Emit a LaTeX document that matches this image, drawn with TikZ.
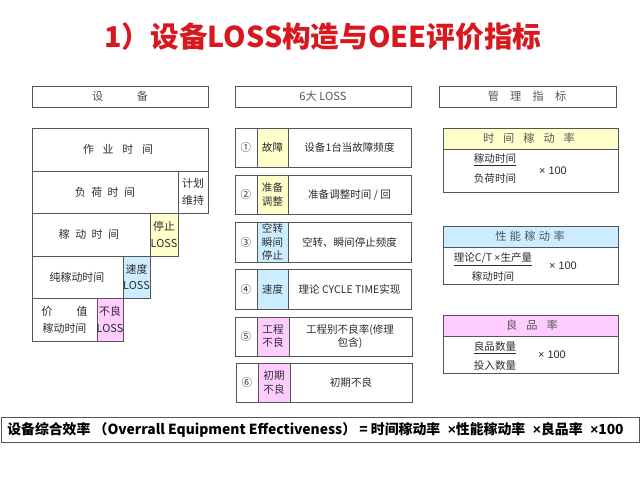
\documentclass[tikz,border=0pt]{standalone}
\usepackage{fontspec}
\setmainfont{Noto Sans CJK SC}
\newfontfamily\arialfont{Liberation Sans}
\usetikzlibrary{shadows}

\definecolor{lossyellow}{RGB}{255,255,204}
\definecolor{lossblue}{RGB}{204,236,255}
\definecolor{losspink}{RGB}{255,204,255}
\definecolor{titlered}{RGB}{216,24,30}
\definecolor{edge}{RGB}{85,85,85}
\definecolor{ink}{RGB}{45,45,45}

\newcommand{\mul}{{\arialfont ×}}

\begin{document}
\begin{tikzpicture}[x = 0.75pt, y = -0.75pt,
	frame/.style = {draw = edge, line width = 0.6pt},
	shade/.style = {frame, fill = white, drop shadow = {shadow xshift = 0.9pt, shadow yshift = -0.9pt, fill = gray!55, opacity = 1}},
	txt/.style = {text = ink, align = center, inner sep = 0pt, font = \fontsize{7.9}{9.8}\selectfont},
	stack/.style = {txt, font = \fontsize{8.2}{12.6}\selectfont},
	head/.style = {txt, text = ink!80, font = \fontsize{8.4}{10}\selectfont}]

					\useasboundingbox (0,0) rectangle (640,480);
					\fill [white] (0,0) rectangle (640,480);

					% title
					\node [text = titlered, inner sep = 0pt, font = \fontsize{21.5}{24}\bfseries\selectfont] (title) at (323,37) {1）设备LOSS构造与OEE评价指标};

					% column headers
					\draw [shade] (32,86) rectangle (208,107);
					\draw [shade] (235,86) rectangle (411,107);
					\draw [shade] (439,86) rectangle (616,107);

					\node [head] (equip) at (120,96.5) {设\hspace{3em}备};
					\node [head] (sixloss) at (323,96.5) {6大 LOSS};
					\node [head] (index) at (527,96.5) {管\hspace{1em}理\hspace{1em}指\hspace{1em}标};

					% time stack
					\draw [frame, fill = white] (32,128) rectangle (208,171);
					\draw [frame] (32,171) rectangle (178,213);
					\draw [frame] (178,171) rectangle (208,213);
					\draw [frame] (32,213) rectangle (150,256);
					\draw [frame, fill = lossyellow] (150,213) rectangle (178,256);
					\draw [frame] (32,256) rectangle (123,298);
					\draw [frame, fill = lossblue] (123,256) rectangle (150,298);
					\draw [frame] (32,298) rectangle (97,341);
					\draw [frame, fill = losspink] (97,298) rectangle (123,341);

					\node [stack] (worktime) at (118,149.5) {作\hspace{0.8em}业\hspace{0.8em}时\hspace{0.8em}间};
					\node [stack] (loadtime) at (105,192) {负\hspace{0.5em}荷\hspace{0.5em}时\hspace{0.5em}间};
					\node [stack] (plan) at (193,192) {计划\\维持};
					\node [stack] (runtime) at (89,234.5) {稼\hspace{0.5em}动\hspace{0.5em}时\hspace{0.5em}间};
					\node [stack] (stoploss) at (164,234.5) {停止\\LOSS};
					\node [stack] (netrun) at (77,277) {纯稼动时间};
					\node [stack] (speedloss) at (136.5,277) {速度\\LOSS};
					\node [stack] (valuerun) at (64.5,319.5) {价\hspace{2.2em}值\\稼动时间};
					\node [stack] (defectloss) at (110,319.5) {不良\\LOSS};

					% six losses
					\draw [shade] (235,128) rectangle (411,167);
					\draw [frame, fill = lossyellow] (257,128) rectangle (288,167);
					\draw [shade] (235,175) rectangle (411,214);
					\draw [frame, fill = lossyellow] (257,175) rectangle (288,214);
					\draw [shade] (235,222) rectangle (411,262);
					\draw [frame, fill = lossblue] (257,222) rectangle (288,262);
					\draw [shade] (235,269) rectangle (411,309);
					\draw [frame, fill = lossblue] (257,269) rectangle (288,309);
					\draw [shade] (235,317) rectangle (412,356);
					\draw [frame, fill = losspink] (257,317) rectangle (289,356);
					\draw [shade] (236,363) rectangle (412,402);
					\draw [frame, fill = losspink] (258,363) rectangle (290,402);

					\node [txt] (n1) at (246,147.5) {①};
					\node [txt] (k1) at (272.5,147.5) {故障};
					\node [txt] (d1) at (349.5,147.5) {设备1台当故障频度};
					\node [txt] (n2) at (246,194.5) {②};
					\node [txt] (k2) at (272.5,194.5) {准备\\调整};
					\node [txt] (d2) at (349.5,194.5) {准备调整时间 / 回};
					\node [txt] (n3) at (246,242) {③};
					\node [txt] (k3) at (272.5,242) {空转\\瞬间\\停止};
					\node [txt] (d3) at (349.5,242) {空转、瞬间停止频度};
					\node [txt] (n4) at (246,289) {④};
					\node [txt] (k4) at (272.5,289) {速度};
					\node [txt] (d4) at (349.5,289) {理论 CYCLE TIME实现};
					\node [txt] (n5) at (246,336.5) {⑤};
					\node [txt] (k5) at (273,336.5) {工程\\不良};
					\node [txt] (d5) at (350,336.5) {工程别不良率(修理\\包含)};
					\node [txt] (n6) at (247,382.5) {⑥};
					\node [txt] (k6) at (274,382.5) {初期\\不良};
					\node [txt] (d6) at (351,382.5) {初期不良};

					% indices
					\draw [shade] (443,128) rectangle (618,192);
					\draw [frame, fill = lossyellow] (443,128) rectangle (618,149);
					\draw [shade] (443,226) rectangle (618,284);
					\draw [frame, fill = lossblue] (443,226) rectangle (618,247);
					\draw [shade] (443,315) rectangle (618,373);
					\draw [frame, fill = losspink] (443,315) rectangle (618,336);

					\node [head] (timerate) at (529,138.5) {时\hspace{0.8em}间\hspace{0.8em}稼\hspace{0.8em}动\hspace{0.8em}率};
					\node [txt] (timenum) at (495,160) {\underline{稼动时间}};
					\node [txt] (timeden) at (495,178) {负荷时间};
					\node [txt, font = \arialfont\fontsize{8.2}{10}\selectfont] (timex) at (553,171) {× 100};

					\node [head] (perfrate) at (530,236.5) {性\hspace{0.3em}能\hspace{0.3em}稼\hspace{0.3em}动\hspace{0.3em}率};
					\node [txt] (perfnum) at (493,259) {\underline{理论C/T \mul 生产量}};
					\node [txt] (perfden) at (493,276) {稼动时间};
					\node [txt, font = \arialfont\fontsize{8.2}{10}\selectfont] (perfx) at (563,266) {× 100};

					\node [head] (goodrate) at (532,325.5) {良\hspace{0.8em}品\hspace{0.8em}率};
					\node [txt] (goodnum) at (495,348) {\underline{良品数量}};
					\node [txt] (goodden) at (495,365) {投入数量};
					\node [txt, font = \arialfont\fontsize{8.2}{10}\selectfont] (goodx) at (552,355) {× 100};

					% OEE formula
					\draw [shade] (1,417) rectangle (639,442);
					\node [anchor = west, text = black, inner sep = 0pt, font = \fontsize{10.4}{12}\bfseries\selectfont] (oee) at (7,430) {设备综合效率 （Overrall Equipment Effectiveness） = 时间稼动率\hspace{0.55em}\mul 性能稼动率\hspace{0.55em}\mul 良品率\hspace{0.55em}\mul 100};
				\end{tikzpicture}
\end{document}
